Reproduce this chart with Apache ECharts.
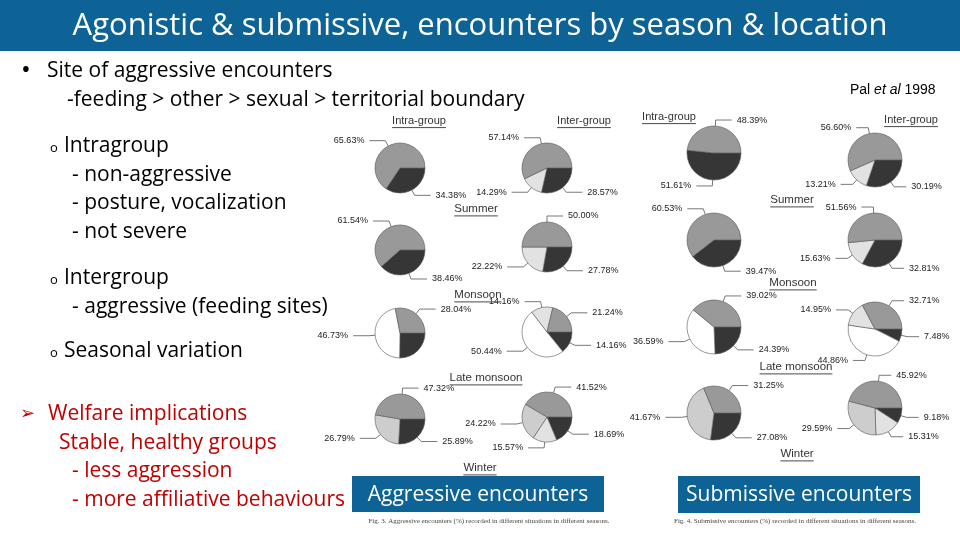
<!DOCTYPE html>
<html><head><meta charset="utf-8">
<script src="https://cdn.jsdelivr.net/npm/echarts@6/dist/echarts.min.js"></script>
<style>html,body{margin:0;padding:0;background:#fff}#c{width:960px;height:540px}</style>
</head><body><div id="c"></div>
<script>
// ---- data ----
const seasons = ['Summer', 'Monsoon', 'Late monsoon', 'Winter'];
const groups = ['Intra-group', 'Inter-group'];
const sliceTypes = ['dark', 'white', 'dotted', 'cross', 'grey'];
// values per season, in sliceTypes order (0 = slice absent)
const aggIntra = [[34.38, 0, 0, 0, 65.63], [38.46, 0, 0, 0, 61.54], [25.23, 46.73, 0, 0, 28.04], [25.89, 0, 0, 26.79, 47.32]];
const aggInter = [[28.57, 0, 14.29, 0, 57.14], [27.78, 0, 22.22, 0, 50.00], [14.16, 50.44, 14.16, 0, 21.24], [18.69, 0, 15.57, 24.22, 41.52]];
const subIntra = [[51.61, 0, 0, 0, 48.39], [39.47, 0, 0, 0, 60.53], [24.39, 36.59, 0, 0, 39.02], [27.08, 0, 0, 41.67, 31.25]];
const subInter = [[30.19, 0, 13.21, 0, 56.60], [32.81, 0, 15.63, 0, 51.56], [7.48, 44.86, 14.95, 0, 32.71], [9.18, 0, 15.31, 29.59, 45.92]];

// ---- styling / layout ----
const sliceColors = { dark: '#363636', white: '#ffffff', dotted: '#e2e2e2', cross: '#cdcdcd', grey: '#999999' };
const BLUE = '#0D6396';
const RED = '#C00000';
const FONT = 'Open Sans';
const aggLayout = { intraX: 400, interX: 547, intraY: [168, 250, 333, 419], interY: [168, 247, 332, 417], r: 25 };
const subLayout = { intraX: 714, interX: 875, intraY: [153, 240, 327, 413], interY: [160, 240, 329, 408], r: 27 };

const chart = echarts.init(document.getElementById('c'), null, { renderer: 'canvas' });

function pie(vals, cx, cy, r, len2) {
  return {
    type: 'pie', center: [cx, cy], radius: [0, r], startAngle: 0, clockwise: true,
    animation: false, silent: true,
    data: sliceTypes.map((t, i) => ({ name: t, value: vals[i], itemStyle: { color: sliceColors[t] } })).filter(d => d.value > 0),
    itemStyle: { borderColor: '#555', borderWidth: 0.6 },
    label: { show: true, position: 'outside', overflow: 'none', formatter: p => p.value.toFixed(2) + '%', fontSize: 9, color: '#222', fontFamily: 'Liberation Sans' },
    labelLine: { show: true, length: 6, length2: len2, lineStyle: { color: '#555', width: 0.8 } },
    emphasis: { disabled: true }
  };
}
const series = [];
seasons.forEach((s, i) => {
  series.push(pie(aggIntra[i], aggLayout.intraX, aggLayout.intraY[i], aggLayout.r, 16));
  series.push(pie(aggInter[i], aggLayout.interX, aggLayout.interY[i], aggLayout.r, 16));
  series.push(pie(subIntra[i], subLayout.intraX, subLayout.intraY[i], subLayout.r, 16));
  series.push(pie(subInter[i], subLayout.interX, subLayout.interY[i], subLayout.r, 12));
});

const mctx = document.createElement('canvas').getContext('2d');
function measure(t, font) { mctx.font = font; return mctx.measureText(t).width; }

const g = [];
function txt(t, x, y, size, color, opts) {
  opts = opts || {};
  const family = opts.family || FONT;
  const font = (opts.style || '') + ' ' + (opts.weight || 'normal') + ' ' + size + 'px ' + family;
  g.push({ type: 'text', x: x, y: y, silent: true, z: 10,
    style: { text: t, font: font, fill: color, align: opts.align || 'left', verticalAlign: 'middle', rich: opts.rich } });
}
function uline(t, cx, y, size) {
  const font = 'normal ' + size + 'px Liberation Sans';
  const w = measure(t, font);
  txt(t, cx, y, size, '#333', { family: 'Liberation Sans', align: 'center' });
  g.push({ type: 'line', silent: true, z: 10, shape: { x1: cx - w / 2, y1: y + size * 0.6, x2: cx + w / 2, y2: y + size * 0.6 }, style: { stroke: '#333', lineWidth: 0.9 } });
}

// title bar
g.push({ type: 'rect', silent: true, shape: { x: 0, y: 0, width: 960, height: 51 }, style: { fill: BLUE } });
txt('Agonistic & submissive, encounters by season & location', 480, 26, 31, '#fff', { align: 'center' });

// slide text
const S = 21;
txt('•', 21, 71, 26, '#000');
txt('Site of aggressive encounters', 47, 71, S, '#000');
txt('-feeding > other > sexual > territorial boundary', 67, 100, S, '#000');
txt('o', 50, 148, 13, '#000');
txt('Intragroup', 64, 146, S, '#000');
txt('- non-aggressive', 72, 175, S, '#000');
txt('- posture, vocalization', 72, 203, S, '#000');
txt('- not severe', 72, 232, S, '#000');
txt('o', 50, 280, 13, '#000');
txt('Intergroup', 64, 278, S, '#000');
txt('- aggressive (feeding sites)', 72, 307, S, '#000');
txt('o', 50, 353, 13, '#000');
txt('Seasonal variation', 64, 351, S, '#000');
txt('➢', 20, 414, 18, RED, { family: 'DejaVu Sans' });
txt('Welfare implications', 48, 414, S, RED);
txt('Stable, healthy groups', 59, 443, S, RED);
txt('- less aggression', 72, 471, S, RED);
txt('- more affiliative behaviours', 72, 500, S, RED);

txt('Pal {it|et al} 1998', 850, 90, 14, '#000', { family: 'Liberation Sans', rich: { it: { fontStyle: 'italic', fontSize: 14, fontFamily: 'Liberation Sans' } } });

// figure headers
uline(groups[0], 419, 121, 11);
uline(groups[1], 584, 121, 11);
uline(groups[0], 669, 117, 11);
uline(groups[1], 911, 120, 11);
const aggSeasonPos = [[476, 209], [478, 295], [486, 378], [480, 468]];
const subSeasonPos = [[792, 200], [793, 283], [796, 367], [797, 454]];
seasons.forEach((s, i) => {
  uline(s, aggSeasonPos[i][0], aggSeasonPos[i][1], 11.5);
  uline(s, subSeasonPos[i][0], subSeasonPos[i][1], 11.5);
});

// blue boxes
g.push({ type: 'rect', silent: true, z: 5, shape: { x: 352, y: 476, width: 252, height: 36 }, style: { fill: BLUE } });
txt('Aggressive encounters', 478, 495, S, '#fff', { align: 'center' });
g.push({ type: 'rect', silent: true, z: 5, shape: { x: 678, y: 476, width: 242, height: 37 }, style: { fill: BLUE } });
txt('Submissive encounters', 799, 495, S, '#fff', { align: 'center' });
txt('Fig. 3. Aggressive encounters (%) recorded in different situations in different seasons.', 489, 521, 7, '#444', { family: 'Liberation Serif', align: 'center' });
txt('Fig. 4. Submissive encounters (%) recorded in different situations in different seasons.', 795, 521, 7, '#444', { family: 'Liberation Serif', align: 'center' });

chart.setOption({ animation: false, backgroundColor: '#fff', series: series, graphic: g });
</script></body></html>
